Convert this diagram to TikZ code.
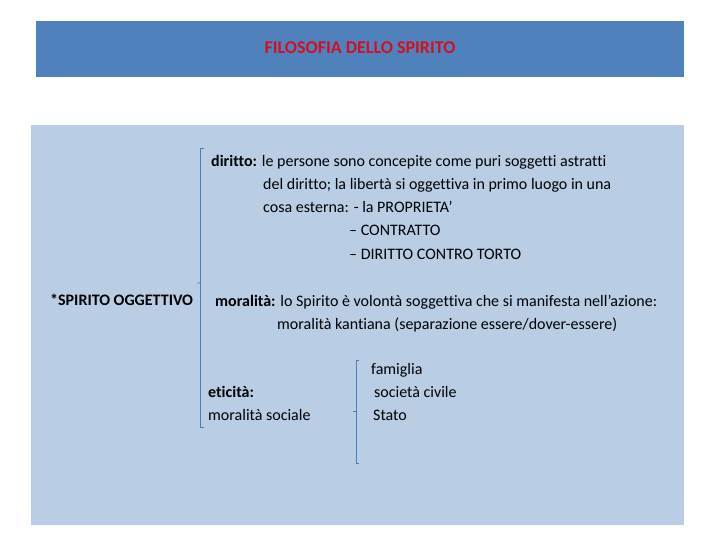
\documentclass[tikz,border=0pt]{standalone}
\usepackage{fontspec}
\setmainfont{Carlito}[Ligatures=NoCommon]
\definecolor{banner}{RGB}{79,129,189}
\definecolor{panel}{RGB}{185,205,229}
\definecolor{brk}{RGB}{74,126,187}
\definecolor{titlered}{RGB}{210,16,32}
\tikzset{
  txt/.style={anchor=base west, inner sep=0pt, font=\fontsize{16}{19}\selectfont, text=black},
  brline/.style={draw=brk, line width=0.9pt},
}
\begin{document}
\begin{tikzpicture}[x=1pt,y=-1pt]
\useasboundingbox (0,0) rectangle (720,540);
\fill[white] (0,0) rectangle (720,540);
\fill[banner] (36,21) rectangle (684,77);
\fill[panel] (31,125) rectangle (684,525);
\node[txt, anchor=base, font=\bfseries\fontsize{18}{21}\selectfont, text=titlered] (title) at (360,54) {FILOSOFIA DELLO SPIRITO};
% left bracket
\coordinate (b1t) at (204,148);
\coordinate (b1b) at (204,427);
\draw[brline] (b1t) -- (200,148) -- (200,427) -- (b1b);
\draw[brk, line width=0.5pt] (200,282) -- (197.5,284);
% right bracket
\coordinate (b2t) at (359,360);
\coordinate (b2b) at (359,463);
\draw[brline] (b2t) -- (356,360) -- (356,463) -- (b2b);
\draw[brk, line width=0.6pt] (356,411) -- (353,411);
% texts
\node[txt] (d1) at (211,167) {\textbf{diritto:} le persone sono concepite come puri soggetti astratti};
\node[txt] (d2) at (263,190) {del diritto; la libertà si oggettiva in primo luogo in una};
\node[txt] (d3) at (263,213) {cosa esterna: - la PROPRIETA’};
\node[txt] (d4) at (349,236) {– CONTRATTO};
\node[txt] (d5) at (349,259) {– DIRITTO CONTRO TORTO};
\node[txt] (so) at (50,305) {\textbf{*SPIRITO OGGETTIVO}};
\node[txt] (m1) at (215,306) {\textbf{moralità:} lo Spirito è volontà soggettiva che si manifesta nell’azione:};
\node[txt] (m2) at (277,329) {moralità kantiana (separazione essere/dover-essere)};
\node[txt] (e1) at (208,397) {\textbf{eticità:}};
\node[txt] (e2) at (208,420) {moralità sociale};
\node[txt] (f1) at (371,374) {famiglia};
\node[txt] (f2) at (374,397) {società civile};
\node[txt] (f3) at (373,420) {Stato};
\end{tikzpicture}
\end{document}
